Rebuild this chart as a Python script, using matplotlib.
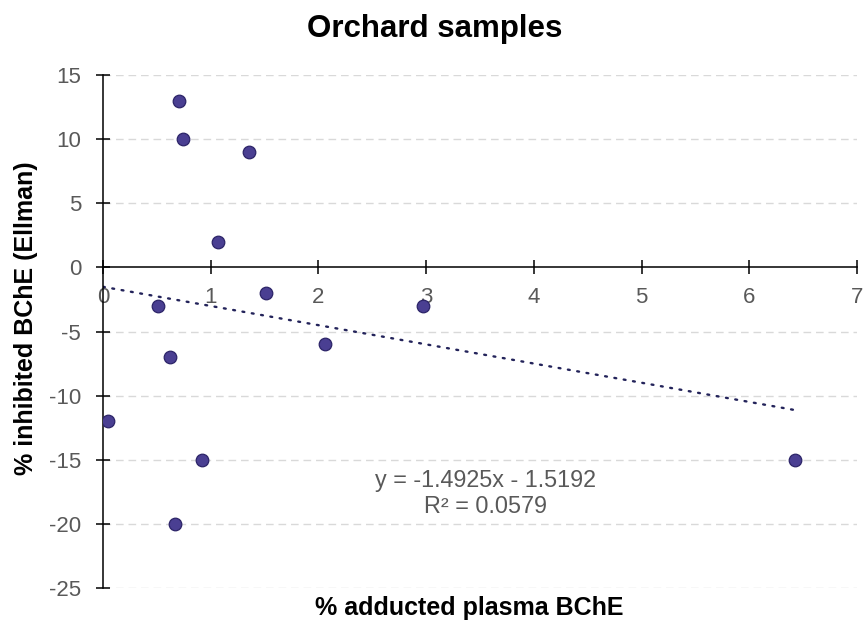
import numpy as np
import matplotlib
matplotlib.use('Agg')
import matplotlib.pyplot as plt

plt.rcParams['font.family'] = ['Liberation Sans', 'DejaVu Sans']
plt.rcParams['axes.unicode_minus'] = False

# Orchard samples: % adducted plasma BChE vs % inhibited BChE (Ellman)
adducted = [0.71, 0.74, 1.36, 1.07, 1.51, 0.51, 2.97, 0.62, 2.06, 0.05, 0.92, 6.42, 0.67]
inhibited = [13, 10, 9, 2, -2, -3, -3, -7, -6, -12, -15, -15, -20]
x_ticks = [0, 1, 2, 3, 4, 5, 6, 7]
y_ticks = [-25, -20, -15, -10, -5, 0, 5, 10, 15]
eq_text = "y = -1.4925x - 1.5192\nR\u00b2 = 0.0579"

grey = '#595959'

fig = plt.figure(figsize=(8.64, 6.21), dpi=100)
ax = fig.add_axes([0.1192, 0.0531, 0.8727, 0.8261])

# gridlines (horizontal only)
for yv in y_ticks:
    if yv != 0:
        ax.axhline(yv, color='#d9d9d9', lw=1, ls=(0, (5.5, 3.5)), zorder=0)

# linear trendline over the data range
slope, icpt = np.polyfit(adducted, inhibited, 1)
xt = np.array([0, max(adducted)])
ax.plot(xt, slope * xt + icpt, color='#23235a', lw=1.7,
        ls=(0, (0.8, 3.2)), dash_capstyle='round', zorder=2)

ax.scatter(adducted, inhibited, s=82, color='#4a3f92', edgecolors='#2c2468',
           linewidths=0.9, zorder=3)

ax.set_xlim(0, 7)
ax.set_ylim(-25, 15)
ax.set_xticks(x_ticks)
ax.set_yticks(y_ticks)

ax.spines['top'].set_visible(False)
ax.spines['right'].set_visible(False)
ax.spines['bottom'].set_position(('data', 0))
for s in ['left', 'bottom']:
    ax.spines[s].set_linewidth(1.1)
    ax.spines[s].set_color('black')

ax.tick_params(axis='both', direction='inout', length=9.5, width=1.1,
               color='black', labelcolor=grey, labelsize=16)
ax.tick_params(axis='x', pad=9.5)
ax.tick_params(axis='y', pad=11)

ax.text(3.55, -17.6, eq_text, ha='center', va='center', color=grey,
        fontsize=16.8, multialignment='center', linespacing=1.17)

fig.text(0.503, 0.953, 'Orchard samples', ha='center', va='center',
         fontsize=22.5, fontweight='bold')
fig.text(0.543, 0.0097, '% adducted plasma BChE', ha='center', va='baseline',
         fontsize=18, fontweight='bold')
fig.text(0.030, 0.488, '% inhibited BChE (Ellman)', ha='center', va='center',
         rotation=90, fontsize=18, fontweight='bold')

fig.savefig('out.png', dpi=100)
